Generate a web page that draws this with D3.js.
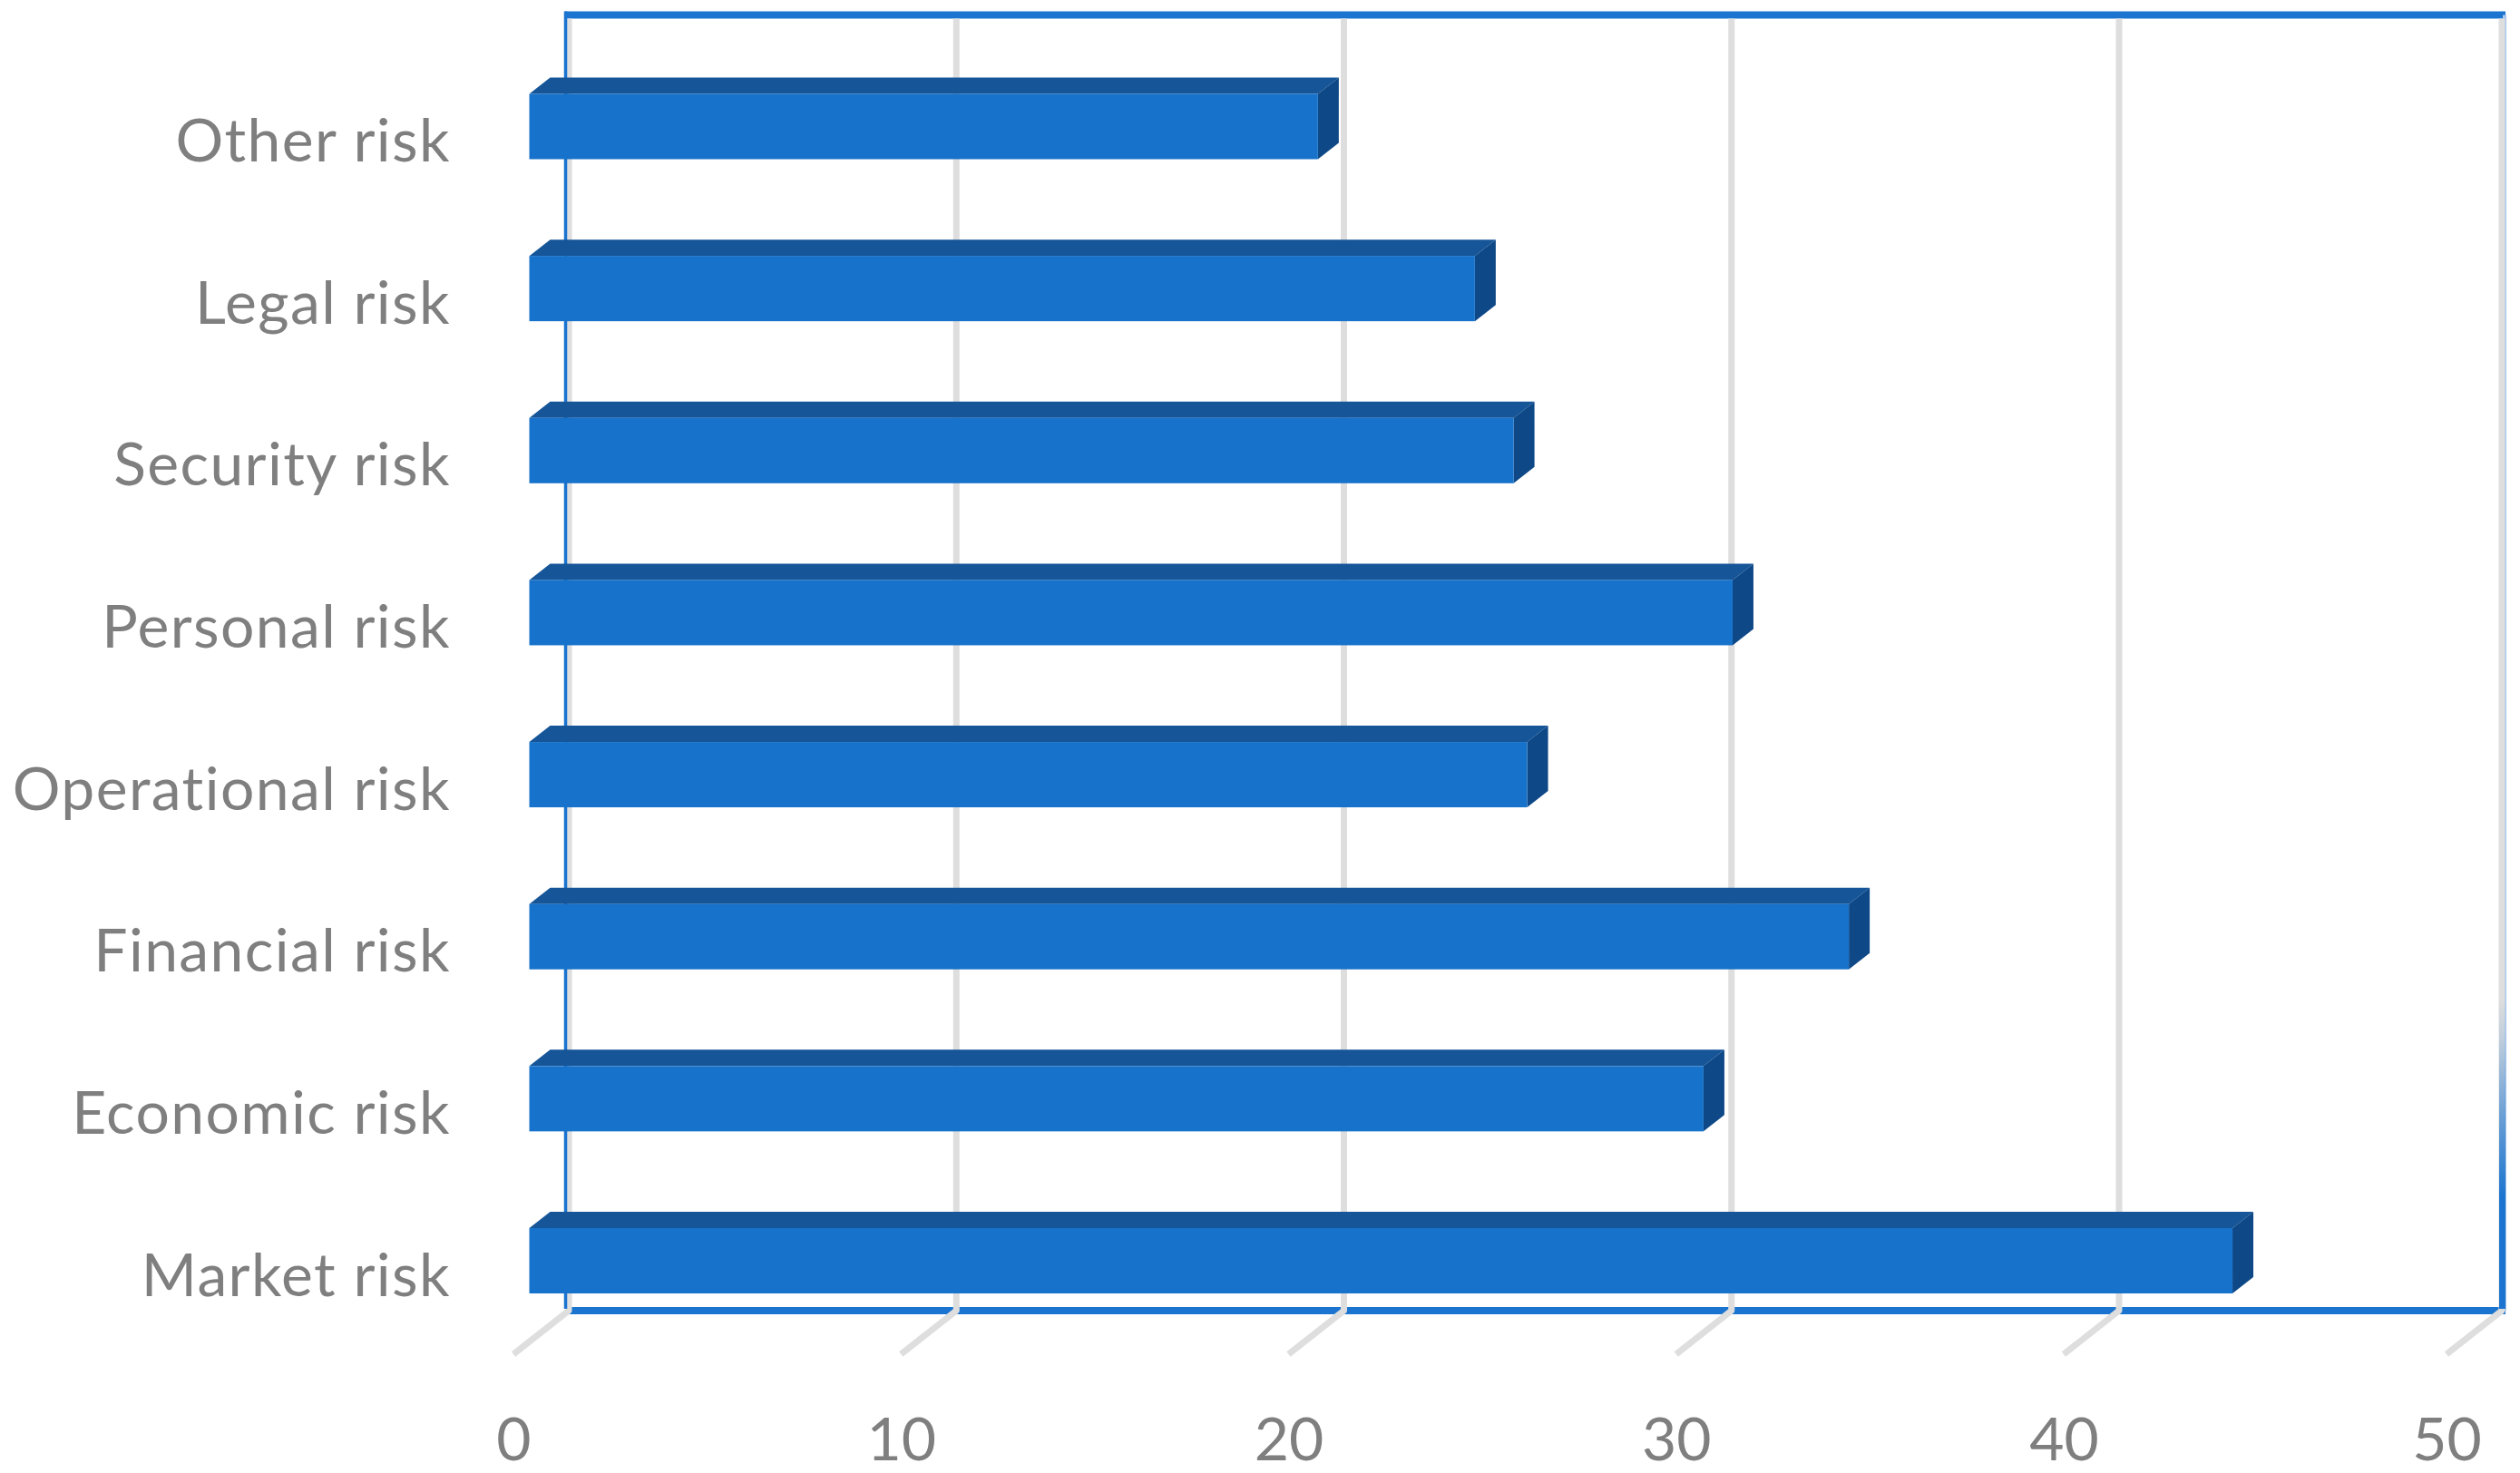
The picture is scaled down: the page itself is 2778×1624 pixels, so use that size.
<!DOCTYPE html>
<html><head><meta charset="utf-8">
<script src="https://cdnjs.cloudflare.com/ajax/libs/d3/7.8.5/d3.min.js"></script>
<style>html,body{margin:0;background:#fff}svg{display:block}
text{font-family:Lato,"Open Sans",sans-serif;fill:#7f7f7f;font-variant-ligatures:none}</style></head>
<body><svg id="c" width="2778" height="1624"></svg>
<script>
const categories=["Other risk","Legal risk","Security risk","Personal risk","Operational risk","Financial risk","Economic risk","Market risk"];
const values=[20.35,24.4,25.4,31.05,25.75,34.05,30.3,43.95];
const tickValues=[0,10,20,30,40,50];

const svg=d3.select("#c");
// front floor edge of the 3D box (the last division is slightly short in the source picture)
const x=d3.scaleLinear().domain([0,40,50]).range([566,2275,2697]);
const depthX=61,depthY=48;
const wx=v=>x(v)+depthX;
const bx=d3.scaleLinear().domain([0,50]).range([583.5,583.5+2136]);   // bar front plane
const y=d3.scalePoint().domain(categories).range([139.5,1390]);
const barH=72,barDX=23,barDY=18;
const wallTop=16.5, floorY=1445;
const blue="#1b74cf",front="#1672ca",topC="#155598",side="#0e4887",grid="#dedede";

const g=svg.append("defs").append("linearGradient").attr("id","rw").attr("gradientUnits","userSpaceOnUse").attr("x1",0).attr("x2",0).attr("y1",1100).attr("y2",1320);
[[0,0],[.2,.15],[.6,.6],[1,1]].forEach(s=>g.append("stop").attr("offset",s[0]).attr("stop-color",blue).attr("stop-opacity",s[1]));

// back wall frame
[wallTop,floorY].forEach((yy,i)=>svg.append("line").attr("x1",wx(0)+(i?1:-4)).attr("x2",wx(50)+4).attr("y1",yy).attr("y2",yy).attr("stroke",blue).attr("stroke-width",8));
// right wall: pale edge
svg.append("line").attr("x1",wx(50)+3).attr("x2",wx(50)+3).attr("y1",wallTop).attr("y2",floorY).attr("stroke","#a9c8ec").attr("stroke-width",4);
// gridlines + floor ticks
svg.selectAll("path.grid").data(tickValues).join("path").attr("class","grid")
  .attr("fill","none").attr("stroke",grid).attr("stroke-width",7).attr("stroke-linejoin","round")
  .attr("d",d=>`M${x(d)},${floorY+depthY}L${wx(d)},${floorY}L${wx(d)},${wallTop+4}`);
// right wall: solid lower part
svg.append("line").attr("x1",wx(50)+.5).attr("x2",wx(50)+.5).attr("y1",1100).attr("y2",floorY-2).attr("stroke","url(#rw)").attr("stroke-width",7);
// left wall edge
svg.append("line").attr("x1",wx(0)-3.5).attr("x2",wx(0)-3.5).attr("y1",wallTop-4).attr("y2",floorY-2).attr("stroke",blue).attr("stroke-width",3.5);

// bars
const rows=categories.map((c,i)=>({c,v:values[i]}));
const b=svg.selectAll("g.bar").data(rows).join("g").attr("class","bar");
b.append("path").attr("fill",topC).attr("d",d=>{const t=y(d.c)-barH/2;return `M${bx(0)},${t}L${bx(0)+barDX},${t-barDY}L${bx(d.v)+barDX},${t-barDY}L${bx(d.v)},${t}Z`});
b.append("path").attr("fill",side).attr("d",d=>{const t=y(d.c)-barH/2;return `M${bx(d.v)},${t}L${bx(d.v)+barDX},${t-barDY}L${bx(d.v)+barDX},${t+barH-barDY}L${bx(d.v)},${t+barH}Z`});
b.append("rect").attr("fill",front).attr("x",bx(0)).attr("y",d=>y(d.c)-barH/2).attr("width",d=>bx(d.v)-bx(0)).attr("height",barH);

// axes (text only)
const ax=d3.axisBottom(x).tickValues(tickValues).tickSize(0).tickPadding(0);
const ga=svg.append("g").attr("transform","translate(0,1610)").call(ax);
ga.select(".domain").remove();
ga.selectAll("text").attr("font-size",66).attr("dy",0).attr("y",0).attr("fill","#7f7f7f");
const ay=d3.axisLeft(y).tickSize(0).tickPadding(0);
const gy=svg.append("g").attr("transform","translate(497,38)").call(ay);
gy.select(".domain").remove();
gy.selectAll("text").attr("font-size",66).attr("dy",0).attr("x",0).attr("letter-spacing",1.4);
</script></body></html>
